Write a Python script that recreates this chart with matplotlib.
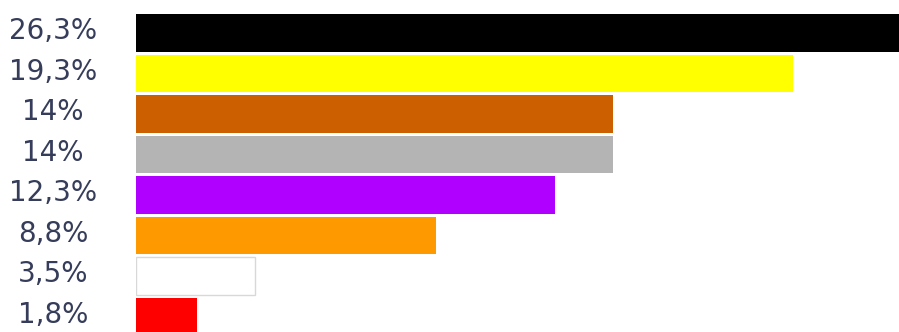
import matplotlib
matplotlib.use("Agg")
import matplotlib.pyplot as plt
import matplotlib.transforms as mtransforms

labels = ['26,3%', '19,3%', '14%', '14%', '12,3%', '8,8%', '3,5%', '1,8%']
values = [26.3, 19.3, 14.0, 14.0, 12.3, 8.8, 3.5, 1.8]
colors = ['#000000', '#ffff00', '#cc6000', '#b4b4b4',
          '#b000ff', '#ff9900', '#ffffff', '#ff0000']

fig = plt.figure(figsize=(8.99, 3.32), dpi=100)
ax = fig.add_axes([136 / 899, 0, 1 - 136 / 899, 1])

pos = list(range(len(values)))
bars = ax.barh(pos, values, height=0.93, color=colors, linewidth=0)
# the white bar needs an outline to be visible
bars[6].set_edgecolor('#d8d8d8')
bars[6].set_linewidth(1.0)

ax.set_xlim(0, 22.4)
ax.set_ylim(7.383, -0.815)
ax.axis('off')

trans = mtransforms.blended_transform_factory(fig.transFigure, ax.transData)
for p, lab in zip(pos, labels):
    ax.text(53 / 899, p - 0.04, lab, transform=trans, ha='center', va='center',
            fontsize=20, color='#363d5a', family='DejaVu Sans', clip_on=False)

fig.savefig('out.png', dpi=100)
